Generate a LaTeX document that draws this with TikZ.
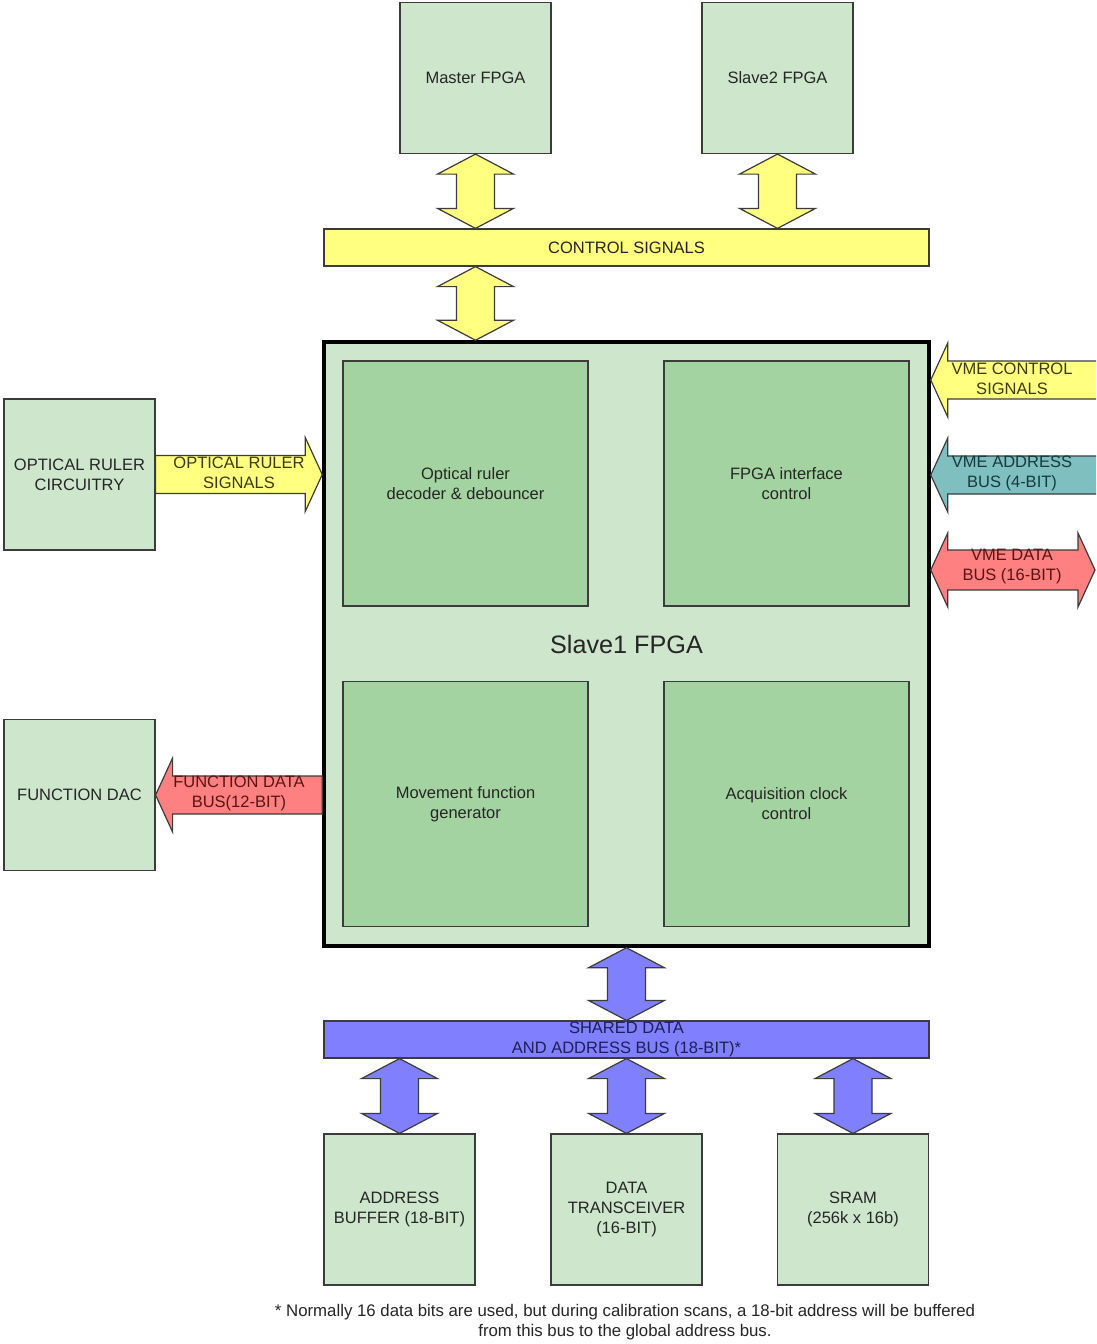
\documentclass[tikz,border=0pt]{standalone}
\usepackage{fontspec}
\setmainfont{Liberation Sans}
\usetikzlibrary{calc}

\definecolor{boxgreen}{RGB}{205,230,204}
\definecolor{innergreen}{RGB}{163,211,160}
\definecolor{busyellow}{RGB}{255,255,128}
\definecolor{busblue}{RGB}{128,128,255}
\definecolor{busred}{RGB}{255,128,128}
\definecolor{busteal}{RGB}{128,191,192}
\definecolor{edgegray}{RGB}{60,60,60}
\definecolor{txtyellow}{RGB}{60,60,20}
\definecolor{txtblue}{RGB}{30,30,90}
\definecolor{txtred}{RGB}{90,20,20}
\definecolor{txtteal}{RGB}{20,60,60}

% vertical two-headed block arrow between #1 (top tip) and #2 (bottom tip)
\newcommand\vbus[3]{%
  \draw[busedge, fill=#3] let \p1=(#1), \p2=(#2) in
    (\x1,\y1) -- (\x1+38pt,\y1-20pt) -- (\x1+19pt,\y1-20pt) --
    (\x1+19pt,\y2+20pt) -- (\x1+38pt,\y2+20pt) -- (\x1,\y2) --
    (\x1-38pt,\y2+20pt) -- (\x1-19pt,\y2+20pt) -- (\x1-19pt,\y1-20pt) --
    (\x1-38pt,\y1-20pt) -- cycle;}

% horizontal one-headed block arrow from #1 (tail) to #2 (tip)
\newcommand\hbus[3]{%
  \draw[busedge, fill=#3] let \p1=(#1), \p2=(#2), \p3=($(#2)!17pt!(#1)$) in
    (\x1,\y2+19pt) -- (\x3,\y2+19pt) -- (\x3,\y2+37pt) --
    (\x2,\y2) -- (\x3,\y2-37pt) -- (\x3,\y2-19pt) --
    (\x1,\y2-19pt) -- cycle;}

% horizontal two-headed block arrow between #1 (left tip) and #2 (right tip)
\newcommand\hdbus[3]{%
  \draw[busedge, fill=#3] let \p1=(#1), \p2=(#2) in
    (\x1,\y1) -- (\x1+17pt,\y1+37pt) -- (\x1+17pt,\y1+20pt) --
    (\x2-17pt,\y1+20pt) -- (\x2-17pt,\y1+37pt) -- (\x2,\y1) --
    (\x2-17pt,\y1-37pt) -- (\x2-17pt,\y1-20pt) -- (\x1+17pt,\y1-20pt) --
    (\x1+17pt,\y1-37pt) -- cycle;}

\begin{document}
\begin{tikzpicture}[x=1pt,y=-1pt,
  txt/.style={font=\fontsize{16.5}{20}\selectfont, align=center},
  box/.style={txt, draw=edgegray, line width=1.2pt, fill=boxgreen,
    minimum width=151pt, minimum height=151pt, inner sep=0pt, text=black!85},
  inner/.style={txt, draw=edgegray, line width=1.2pt, fill=innergreen,
    minimum width=245pt, minimum height=245pt, inner sep=0pt, text=black!85},
  bar/.style={txt, draw=edgegray, line width=1.2pt,
    minimum width=605pt, minimum height=37pt, inner sep=0pt},
  busedge/.style={draw=edgegray, line width=1.2pt, line join=miter},
  lbl/.style={txt, inner sep=0pt}]

\clip (0,0) rectangle (1096,1344);
\fill[white] (0,0) rectangle (1096,1344);

% top FPGAs and control bus
\node[box] (master) at (475.5,78) {Master FPGA};
\node[box] (slave2) at (777.5,78) {Slave2 FPGA};
\node[bar, fill=busyellow, text=black!85] (ctrl) at (626.5,247.5) {CONTROL SIGNALS};

% main FPGA with its four functional blocks
\node[txt, draw=black, line width=3.5pt, fill=boxgreen, minimum width=605pt,
  minimum height=604pt, inner sep=0pt, font=\fontsize{25.2}{28}\selectfont,
  text=black!85] (slave1) at (626.5,644) {Slave1 FPGA};
\node[inner] (decoder) at (465.5,483.5) {Optical ruler\\decoder \& debouncer};
\node[inner] (fpgaif) at (786.5,483.5) {FPGA interface\\control};
\node[inner] (movgen) at (465.5,804) {Movement function\\generator};
\node[inner] (acqclk) at (786.5,804) {Acquisition clock\\control};

% side peripherals
\node[box] (optical) at (79.5,474.5) {OPTICAL RULER\\CIRCUITRY};
\node[box] (dac) at (79.5,795) {FUNCTION DAC};

% shared bus and memory-side devices
\node[bar, fill=busblue, text=txtblue] (shared) at (626.5,1039.5)
  {SHARED DATA\\AND ADDRESS BUS (18-BIT)*};
\node[box] (addrbuf) at (399.5,1209.5) {ADDRESS\\BUFFER (18-BIT)};
\node[box] (xcvr) at (626.5,1209.5) {DATA\\TRANSCEIVER\\(16-BIT)};
\node[box] (sram) at (853,1209.5) {SRAM\\(256k x 16b)};

% bus arrows
\vbus{master.south}{master.south |- ctrl.north}{busyellow}
\vbus{slave2.south}{slave2.south |- ctrl.north}{busyellow}
\vbus{ctrl.south -| master.south}{slave1.north -| master.south}{busyellow}
\vbus{slave1.south}{shared.north}{busblue}
\vbus{shared.south -| addrbuf.north}{addrbuf.north}{busblue}
\vbus{shared.south -| xcvr.north}{xcvr.north}{busblue}
\vbus{shared.south -| sram.north}{sram.north}{busblue}

\hbus{optical.east}{optical.east -| slave1.west}{busyellow}
\hbus{dac.east -| slave1.west}{dac.east}{busred}

% VME bus lines entering from the right edge
\coordinate (vmectl) at (1100,380);
\coordinate (vmeadr) at (1100,475);
\coordinate (vmedat) at (1095,570);
\hbus{vmectl}{vmectl -| slave1.east}{busyellow}
\hbus{vmeadr}{vmeadr -| slave1.east}{busteal}
\hdbus{vmedat -| slave1.east}{vmedat}{busred}

% bus labels
\node[lbl, text=txtyellow] (orslbl) at (239,473) {OPTICAL RULER\\SIGNALS};
\node[lbl, text=txtred] (fdblbl) at (239,793) {FUNCTION DATA\\BUS(12-BIT)};
\node[lbl, text=txtyellow] (vmectllbl) at (1012,378.5) {VME CONTROL\\SIGNALS};
\node[lbl, text=txtteal] (vmeadrlbl) at (1012,473) {VME ADDRESS\\BUS (4-BIT)};
\node[lbl, text=txtred] (vmedatlbl) at (1012,567) {VME DATA\\BUS (16-BIT)};

% footnote
\node[lbl, font=\fontsize{16.8}{20}\selectfont, text=black!85] (note) at (625,1322)
  {* Normally 16 data bits are used, but during calibration scans, a 18-bit address will be buffered\\
   from this bus to the global address bus.};
\end{tikzpicture}
\end{document}
